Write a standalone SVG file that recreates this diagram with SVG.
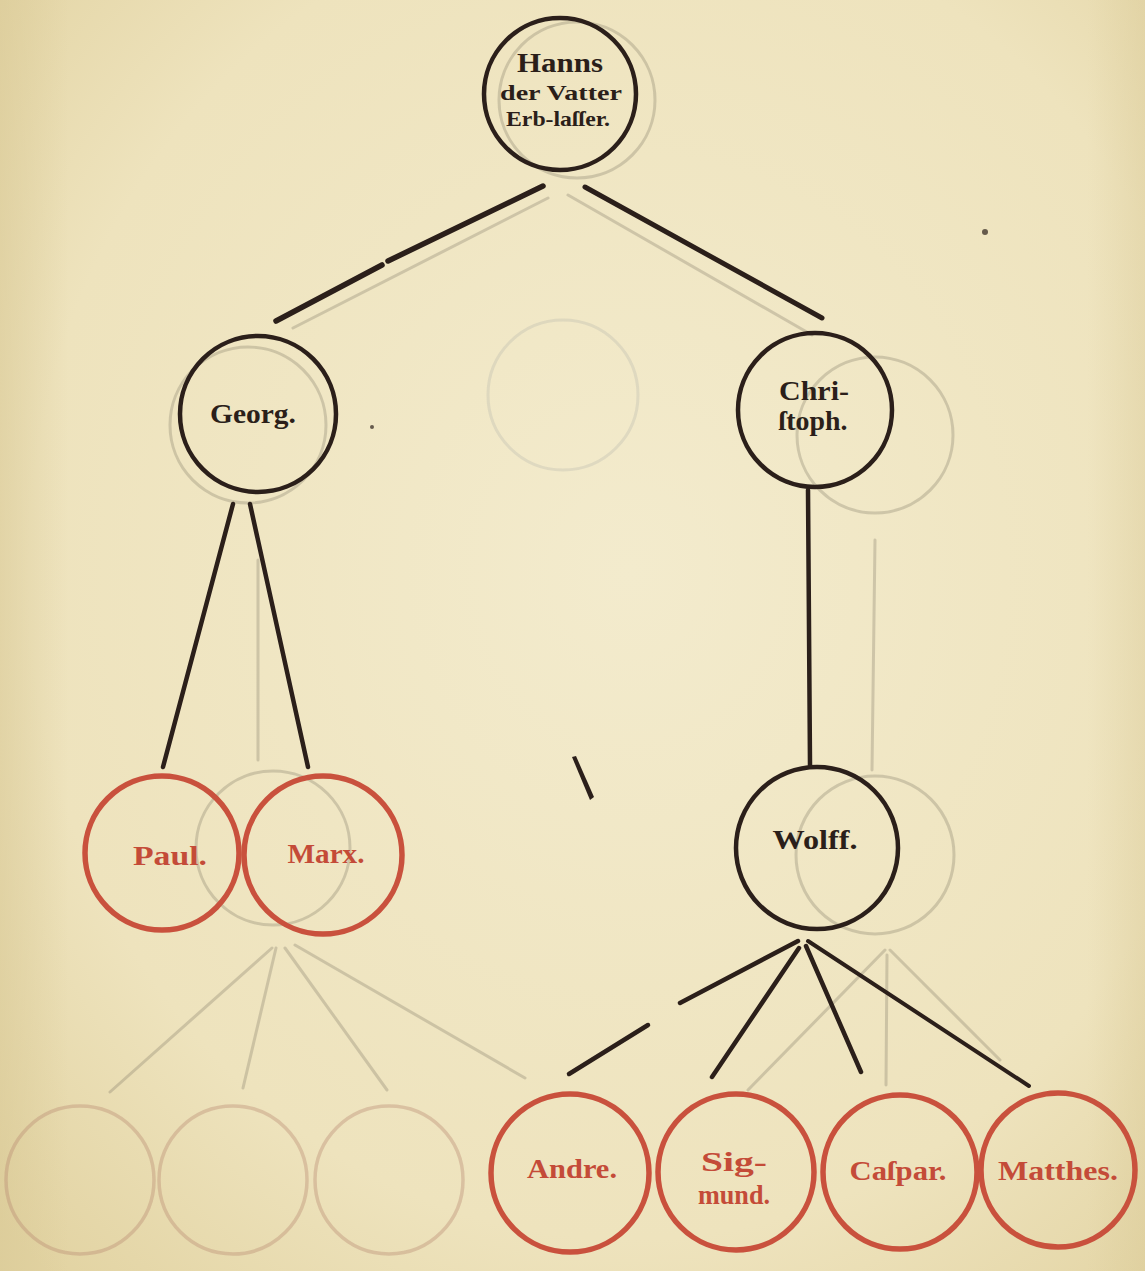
<svg xmlns="http://www.w3.org/2000/svg" width="1145" height="1271" viewBox="0 0 1145 1271">
<defs>
<radialGradient id="paper" cx="55%" cy="45%" r="75%">
<stop offset="0" stop-color="#f3ebcd"/>
<stop offset="0.7" stop-color="#eee3bd"/>
<stop offset="1" stop-color="#e2d3a2"/>
</radialGradient>
<linearGradient id="shade" x1="0" y1="0" x2="1" y2="0">
<stop offset="0" stop-color="#d9c996" stop-opacity="0.55"/>
<stop offset="0.06" stop-color="#d9c996" stop-opacity="0"/>
<stop offset="0.95" stop-color="#d9c996" stop-opacity="0"/>
<stop offset="1" stop-color="#d9c996" stop-opacity="0.4"/>
</linearGradient>
</defs>
<style>
.ink{fill:none;stroke:#2b1f1a;stroke-width:4.5}
.red{fill:none;stroke:#c9513d;stroke-width:5.5}
.ghost{fill:none;stroke:#7f7765;stroke-width:3;opacity:0.3}
.ghostr{fill:none;stroke:#b98a70;stroke-width:3.5;opacity:0.38}
.gline{stroke:#7f7765;stroke-width:3;opacity:0.3;stroke-linecap:round}
.conn{stroke:#2b1f1a;stroke-width:4.5;stroke-linecap:round}
.tb{font-family:"Liberation Serif","DejaVu Serif",serif;font-weight:bold;fill:#2b1f1a;text-anchor:middle}
.tr{font-family:"Liberation Serif","DejaVu Serif",serif;font-weight:bold;fill:#c44b38;text-anchor:middle}
</style>
<rect width="1145" height="1271" fill="url(#paper)"/>
<rect width="1145" height="1271" fill="url(#shade)"/>
<g id="bleed-through">
<circle class="ghost" cx="577" cy="100" r="78"/>
<circle class="ghost" cx="248" cy="425" r="78"/>
<circle class="ghost" cx="875" cy="435" r="78"/>
<circle class="ghost" cx="563" cy="395" r="75" style="stroke:#9aa0a0;opacity:0.22"/>
<circle class="ghost" cx="273" cy="848" r="77"/>
<circle class="ghost" cx="875" cy="855" r="79"/>
<circle class="ghostr" cx="80" cy="1180" r="74"/>
<circle class="ghostr" cx="233" cy="1180" r="74"/>
<circle class="ghostr" cx="389" cy="1180" r="74"/>
<line class="gline" x1="548" y1="198" x2="293" y2="328"/>
<line class="gline" x1="568" y1="195" x2="812" y2="335"/>
<line class="gline" x1="258" y1="560" x2="258" y2="760"/>
<line class="gline" x1="875" y1="540" x2="872" y2="770"/>
<line class="gline" x1="272" y1="948" x2="110" y2="1092"/>
<line class="gline" x1="276" y1="948" x2="243" y2="1088"/>
<line class="gline" x1="285" y1="948" x2="387" y2="1090"/>
<line class="gline" x1="295" y1="945" x2="525" y2="1078"/>
<line class="gline" x1="885" y1="950" x2="748" y2="1090"/>
<line class="gline" x1="887" y1="955" x2="886" y2="1085"/>
<line class="gline" x1="890" y1="950" x2="1000" y2="1060"/>
</g>
<g id="connectors">
<line class="conn" x1="543" y1="186" x2="388" y2="261" style="stroke-width:5.5"/>
<line class="conn" x1="382" y1="265" x2="276" y2="321" style="stroke-width:5.5"/>
<line class="conn" x1="585" y1="187" x2="822" y2="318" style="stroke-width:5"/>
<line class="conn" x1="233" y1="504" x2="163" y2="767"/>
<line class="conn" x1="250" y1="504" x2="308" y2="767"/>
<line class="conn" x1="808" y1="490" x2="810" y2="765"/>
<line class="conn" x1="798" y1="941" x2="680" y2="1003"/>
<line class="conn" x1="648" y1="1025" x2="569" y2="1074"/>
<line class="conn" x1="799" y1="948" x2="712" y2="1077"/>
<line class="conn" x1="806" y1="946" x2="861" y2="1072"/>
<line class="conn" x1="808" y1="941" x2="1029" y2="1086" style="stroke-width:4"/>
</g>
<g id="node-hanns">
<circle class="ink" cx="560" cy="94" r="76"/>
<text class="tb" x="560" y="72" font-size="27" textLength="86" lengthAdjust="spacingAndGlyphs">Hanns</text>
<text class="tb" x="561" y="100" font-size="21" textLength="122" lengthAdjust="spacingAndGlyphs">der Vatter</text>
<text class="tb" x="558" y="126" font-size="21" textLength="104" lengthAdjust="spacingAndGlyphs">Erb-laſſer.</text>
</g>
<g id="node-georg">
<circle class="ink" cx="258" cy="414" r="78"/>
<text class="tb" x="253" y="423" font-size="28" textLength="86" lengthAdjust="spacingAndGlyphs">Georg.</text>
</g>
<g id="node-christoph">
<circle class="ink" cx="815" cy="410" r="77"/>
<text class="tb" x="814" y="400" font-size="28" textLength="70" lengthAdjust="spacingAndGlyphs">Chri-</text>
<text class="tb" x="813" y="430" font-size="28" textLength="69" lengthAdjust="spacingAndGlyphs">ſtoph.</text>
</g>
<g id="node-paul">
<circle class="red" cx="162" cy="853" r="77"/>
<text class="tr" x="170" y="865" font-size="28" textLength="74" lengthAdjust="spacingAndGlyphs">Paul.</text>
</g>
<g id="node-marx">
<circle class="red" cx="323" cy="855" r="79"/>
<text class="tr" x="326" y="863" font-size="28" textLength="77" lengthAdjust="spacingAndGlyphs">Marx.</text>
</g>
<g id="node-wolff">
<circle class="ink" cx="817" cy="848" r="81"/>
<text class="tb" x="815" y="849" font-size="28" textLength="85" lengthAdjust="spacingAndGlyphs">Wolff.</text>
</g>
<g id="node-andre">
<circle class="red" cx="570" cy="1173" r="79"/>
<text class="tr" x="572" y="1178" font-size="28" textLength="90" lengthAdjust="spacingAndGlyphs">Andre.</text>
</g>
<g id="node-sigmund">
<circle class="red" cx="736" cy="1172" r="78"/>
<text class="tr" x="734" y="1171" font-size="28" textLength="66" lengthAdjust="spacingAndGlyphs">Sig-</text>
<text class="tr" x="734" y="1204" font-size="28" textLength="72" lengthAdjust="spacingAndGlyphs">mund.</text>
</g>
<g id="node-caspar">
<circle class="red" cx="900" cy="1172" r="77"/>
<text class="tr" x="898" y="1180" font-size="28" textLength="97" lengthAdjust="spacingAndGlyphs">Caſpar.</text>
</g>
<g id="node-matthes">
<circle class="red" cx="1058" cy="1170" r="77"/>
<text class="tr" x="1058" y="1180" font-size="28" textLength="120" lengthAdjust="spacingAndGlyphs">Matthes.</text>
</g>
<g id="paper-marks">
<path d="M572 757 L576 756 L594 797 L590 800 Z" fill="#2b1f1a"/>
<circle cx="985" cy="232" r="3" fill="#2b1f1a" opacity="0.7"/>
<circle cx="372" cy="427" r="2" fill="#2b1f1a" opacity="0.7"/>
</g>
</svg>
